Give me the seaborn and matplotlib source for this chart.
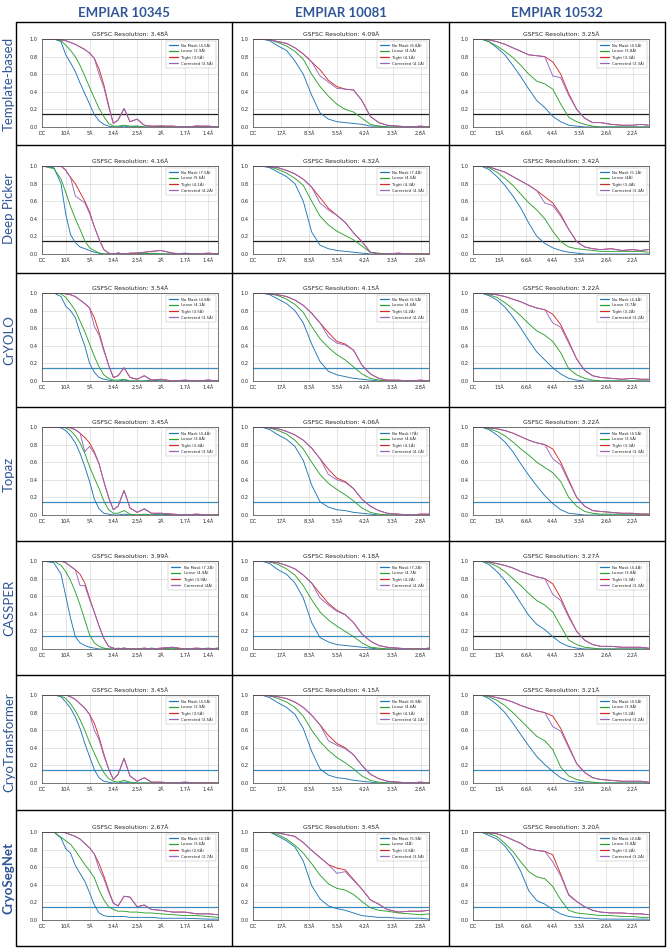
import matplotlib
matplotlib.use('Agg')
import matplotlib.pyplot as plt
import seaborn as sns
from matplotlib.lines import Line2D

sns.set_style('whitegrid', {'axes.edgecolor': '0.25', 'grid.color': '0.85'})
plt.rcParams['font.family'] = 'DejaVu Sans'

# column / row headings
datasets = ['EMPIAR 10345', 'EMPIAR 10081', 'EMPIAR 10532']
pickers = ['Template-based', 'Deep Picker', 'CrYOLO', 'Topaz', 'CASSPER', 'CryoTransformer', 'CryoSegNet']

# x tick labels (resolution) and sample positions (in tick units)
ticks_10345 = ['DC', '10Å', '5Å', '3.4Å', '2.5Å', '2Å', '1.7Å', '1.4Å']
ticks_10081 = ['DC', '17Å', '8.3Å', '5.5Å', '4.2Å', '3.3Å', '2.8Å']
ticks_10532 = ['DC', '13Å', '6.6Å', '4.4Å', '3.3Å', '2.6Å', '2.2Å']
grid_10345 = [0, 0.5, 0.8, 1.0, 1.2, 1.4, 1.6, 1.8, 2.0, 2.2, 2.4, 2.6, 2.8, 3.0, 3.2, 3.45, 3.7, 4.0, 4.3, 4.6, 5.0, 5.5, 6.0, 6.5, 7.0, 7.4]
grid_10081 = [0, 0.3, 0.6, 0.9, 1.2, 1.5, 1.8, 2.1, 2.4, 2.7, 3.0, 3.3, 3.6, 3.9, 4.2, 4.5, 4.8, 5.2, 5.6, 6.0, 6.3]
grid_10532 = [0, 0.3, 0.6, 0.9, 1.2, 1.5, 1.8, 2.1, 2.4, 2.7, 3.0, 3.3, 3.6, 3.9, 4.2, 4.5, 4.8, 5.2, 5.6, 6.0, 6.3, 6.6]

# FSC curves, one row per picker
nomask_10345 = [
    [1, 1, .97, .82, .73, .63, .50, .38, .26, .14, .07, .03, .01, 0, 0, .01, 0, .01, 0, 0, .01, 0, 0, .01, 0, 0],
    [1, .98, .80, .45, .22, .13, .08, .06, .04, .02, .01, 0, 0, 0, .01, 0, 0, 0, .01, 0, 0, 0, .01, 0, 0, 0],
    [1, 1, .96, .85, .80, .72, .55, .40, .20, .10, .04, .02, .01, 0, 0, .01, 0, 0, 0, .01, 0, 0, 0, 0, .01, 0],
    [1, 1, .99, .96, .90, .82, .70, .55, .38, .18, .07, .02, .01, 0, 0, .01, 0, 0, 0, 0, .01, 0, 0, 0, 0, 0],
    [1, .98, .85, .60, .35, .14, .07, .04, .02, .01, 0, 0, 0, 0, .01, 0, 0, 0, 0, .01, 0, 0, 0, 0, .01, 0],
    [1, 1, .98, .92, .85, .75, .62, .45, .30, .15, .06, .02, .01, 0, 0, .01, 0, 0, 0, 0, 0, 0, 0, 0, 0, 0],
    [1, 1, .93, .81, .76, .62, .53, .44, .31, .17, .08, .05, .04, .04, .04, .04, .03, .03, .03, .03, .02, .02, .02, .015, .01, .01],
]
loose_10345 = [
    [1, 1, .98, .93, .87, .80, .70, .58, .45, .33, .21, .12, .04, .01, .01, .02, .01, .01, 0, 0, .01, 0, 0, 0, 0, 0],
    [1, .97, .85, .70, .54, .40, .28, .15, .07, .04, .01, 0, 0, 0, .01, 0, 0, .01, 0, .01, 0, 0, 0, 0, 0, 0],
    [1, 1, .99, .95, .88, .80, .68, .56, .42, .28, .16, .07, .03, .01, .01, .02, 0, 0, 0, 0, 0, 0, 0, 0, 0, 0],
    [1, 1, 1, .99, .96, .90, .82, .70, .55, .42, .30, .16, .06, .02, .02, .05, .01, 0, .01, 0, 0, 0, 0, 0, 0, 0],
    [1, 1, .95, .88, .78, .65, .50, .33, .16, .07, .03, .01, 0, 0, 0, .01, 0, 0, 0, 0, 0, .01, 0, 0, 0, 0],
    [1, 1, .99, .96, .90, .82, .72, .60, .46, .34, .22, .12, .05, .02, .01, .03, .01, 0, 0, 0, 0, 0, 0, 0, 0, 0],
    [1, 1, .94, .90, .86, .79, .71, .63, .56, .48, .34, .23, .15, .12, .10, .10, .09, .09, .08, .08, .07, .06, .05, .05, .04, .03],
]
tight_10345 = [
    [1, 1, .99, .98, .96, .94, .91, .88, .84, .78, .66, .48, .25, .04, .08, .21, .06, .09, .02, .01, .01, .01, 0, .01, .01, 0],
    [1, 1, 1, .95, .87, .80, .70, .60, .48, .31, .17, .05, .01, 0, .01, 0, .01, .01, .02, .03, .04, .01, 0, 0, .01, 0],
    [1, 1, 1, .99, .98, .96, .92, .88, .83, .72, .55, .36, .18, .04, .06, .15, .04, .02, .06, .01, .02, 0, .01, 0, .01, 0],
    [1, 1, 1, 1, .99, .97, .93, .88, .82, .72, .58, .38, .20, .06, .10, .28, .08, .03, .07, .02, .02, .01, 0, .01, 0, 0],
    [1, 1, 1, .98, .94, .90, .85, .75, .58, .42, .26, .12, .03, .01, 0, .01, 0, 0, .01, 0, .01, .02, 0, .01, 0, .01],
    [1, 1, 1, 1, .98, .95, .90, .85, .78, .68, .52, .33, .16, .04, .10, .28, .08, .02, .06, .01, .01, 0, .01, 0, 0, 0],
    [1, 1, 1, .99, .97, .95, .92, .87, .82, .75, .64, .50, .34, .19, .16, .27, .26, .15, .17, .12, .11, .09, .09, .07, .07, .06],
]
corrected_10345 = [
    [1, 1, .99, .98, .96, .94, .91, .88, .84, .78, .60, .45, .23, .04, .08, .21, .06, .09, .02, .01, .01, .01, 0, .01, .01, 0],
    [1, 1, 1, .95, .87, .66, .62, .58, .46, .31, .17, .05, .01, 0, .01, 0, .01, .01, .02, .03, .04, .01, 0, 0, .01, 0],
    [1, 1, 1, .99, .98, .96, .92, .88, .83, .62, .52, .34, .18, .04, .06, .15, .04, .02, .06, .01, .02, 0, .01, 0, .01, 0],
    [1, 1, 1, 1, .99, .97, .93, .72, .78, .70, .58, .38, .20, .06, .10, .28, .08, .03, .07, .02, .02, .01, 0, .01, 0, 0],
    [1, 1, 1, .98, .94, .90, .72, .72, .56, .42, .26, .12, .03, .01, 0, .01, 0, 0, .01, 0, .01, .02, 0, .01, 0, .01],
    [1, 1, 1, 1, .98, .95, .90, .85, .78, .60, .49, .31, .16, .04, .10, .28, .08, .02, .06, .01, .01, 0, .01, 0, 0, 0],
    [1, 1, 1, .99, .97, .95, .92, .87, .82, .75, .58, .47, .32, .19, .16, .27, .26, .15, .17, .12, .11, .09, .09, .07, .07, .06],
]

nomask_10081 = [
    [1, 1, .98, .92, .87, .75, .60, .36, .16, .09, .06, .05, .04, .03, .01, .01, 0, 0, 0, 0, 0],
    [1, 1, .98, .93, .88, .80, .60, .25, .10, .06, .04, .03, .02, .01, 0, 0, 0, 0, 0, 0, 0],
    [1, 1, .98, .93, .88, .80, .66, .42, .22, .11, .07, .05, .03, .02, .01, 0, 0, 0, 0, 0, 0],
    [1, 1, .97, .91, .86, .78, .62, .34, .15, .09, .06, .05, .03, .02, .01, 0, 0, 0, 0, 0, 0],
    [1, 1, .97, .90, .85, .75, .58, .30, .13, .08, .05, .04, .03, .02, .01, 0, 0, 0, 0, 0, 0],
    [1, 1, .97, .91, .86, .78, .62, .36, .16, .09, .06, .05, .03, .02, .01, 0, 0, 0, 0, 0, 0],
    [1, 1, 1, .95, .90, .83, .67, .39, .24, .16, .13, .11, .08, .05, .04, .03, .03, .02, .02, .02, .01],
]
loose_10081 = [
    [1, 1, .99, .96, .92, .86, .77, .60, .46, .35, .26, .20, .17, .10, .03, .01, 0, 0, 0, 0, 0],
    [1, 1, .99, .96, .92, .86, .78, .60, .43, .33, .26, .21, .16, .09, .02, .01, 0, 0, 0, 0, 0],
    [1, 1, .99, .97, .93, .87, .78, .62, .48, .38, .30, .24, .16, .08, .03, .01, 0, 0, 0, 0, 0],
    [1, 1, .99, .96, .92, .85, .75, .60, .46, .36, .29, .23, .16, .08, .03, .01, 0, 0, 0, 0, 0],
    [1, 1, .99, .96, .91, .84, .72, .56, .42, .33, .26, .20, .14, .07, .02, .01, 0, 0, 0, 0, 0],
    [1, 1, .99, .96, .92, .86, .76, .60, .47, .37, .29, .23, .16, .08, .03, .01, 0, 0, 0, 0, 0],
    [1, 1, 1, .97, .92, .85, .76, .64, .51, .41, .36, .34, .29, .21, .14, .11, .10, .08, .07, .06, .07],
]
tight_10081 = [
    [1, 1, .99, .97, .95, .90, .83, .74, .65, .53, .46, .43, .42, .30, .12, .05, .02, .01, 0, .01, 0],
    [1, 1, .99, .98, .95, .91, .85, .76, .64, .52, .44, .36, .24, .14, .02, 0, 0, .01, 0, 0, 0],
    [1, 1, .99, .98, .96, .92, .86, .77, .66, .55, .45, .42, .35, .18, .08, .03, .01, .01, 0, .01, 0],
    [1, 1, .99, .98, .95, .91, .85, .76, .64, .52, .42, .38, .30, .18, .10, .05, .02, .01, 0, .01, .01],
    [1, 1, .99, .98, .95, .91, .84, .75, .63, .52, .44, .39, .30, .17, .09, .04, .02, .01, 0, 0, .01],
    [1, 1, .99, .98, .96, .92, .86, .77, .66, .54, .45, .40, .32, .20, .10, .05, .02, .01, 0, .01, 0],
    [1, 1, 1, .99, .97, .95, .88, .79, .71, .63, .59, .57, .46, .35, .23, .18, .12, .09, .10, .10, .11],
]
corrected_10081 = [
    [1, 1, .99, .97, .95, .90, .83, .74, .58, .51, .44, .43, .42, .30, .12, .05, .02, .01, 0, .01, 0],
    [1, 1, .99, .98, .95, .91, .85, .76, .58, .50, .44, .36, .24, .14, .02, 0, 0, .01, 0, 0, 0],
    [1, 1, .99, .98, .96, .92, .86, .77, .66, .50, .43, .41, .35, .18, .08, .03, .01, .01, 0, .01, 0],
    [1, 1, .99, .98, .95, .91, .85, .76, .64, .46, .40, .37, .30, .18, .10, .05, .02, .01, 0, .01, .01],
    [1, 1, .99, .98, .95, .91, .84, .75, .58, .50, .43, .39, .30, .17, .09, .04, .02, .01, 0, 0, .01],
    [1, 1, .99, .98, .96, .92, .86, .77, .66, .48, .43, .39, .32, .20, .10, .05, .02, .01, 0, .01, 0],
    [1, 1, 1, .99, .97, .95, .88, .79, .71, .63, .53, .55, .45, .35, .23, .18, .12, .09, .10, .10, .11],
]

nomask_10532 = [
    [1, 1, .97, .90, .82, .70, .57, .43, .30, .22, .12, .06, .02, .01, 0, 0, 0, 0, 0, 0, 0, 0],
    [1, 1, .96, .88, .78, .66, .52, .35, .20, .12, .07, .04, .02, .01, 0, 0, 0, 0, 0, 0, 0, 0],
    [1, 1, .97, .92, .84, .73, .60, .46, .33, .24, .15, .08, .03, .01, 0, 0, 0, 0, 0, 0, 0, 0],
    [1, 1, .97, .91, .83, .72, .58, .45, .33, .22, .13, .06, .02, .01, 0, 0, 0, 0, 0, 0, 0, 0],
    [1, 1, .96, .88, .78, .66, .52, .38, .28, .22, .14, .07, .03, .01, 0, 0, 0, 0, 0, 0, 0, 0],
    [1, 1, .96, .89, .80, .68, .55, .42, .30, .21, .13, .06, .02, .01, 0, 0, 0, 0, 0, 0, 0, 0],
    [1, 1, .96, .92, .84, .72, .55, .33, .22, .18, .12, .07, .04, .03, .02, .02, .01, .01, .01, .01, .01, .01],
]
loose_10532 = [
    [1, 1, .97, .92, .86, .79, .70, .60, .52, .49, .43, .26, .11, .06, .03, .01, 0, 0, 0, 0, 0, 0],
    [1, 1, .98, .93, .86, .78, .68, .58, .50, .40, .26, .14, .08, .06, .05, .04, .03, .03, .03, .03, .03, .02],
    [1, 1, .98, .95, .89, .82, .74, .65, .57, .52, .45, .32, .14, .07, .03, .01, 0, 0, 0, 0, 0, 0],
    [1, 1, .98, .95, .90, .83, .75, .68, .60, .54, .48, .38, .20, .10, .04, .02, .01, .01, .01, .01, .01, .01],
    [1, 1, .98, .94, .88, .80, .72, .63, .55, .50, .42, .26, .10, .05, .02, .01, 0, 0, 0, 0, 0, 0],
    [1, 1, .98, .94, .88, .80, .71, .62, .53, .48, .38, .18, .08, .04, .02, .01, 0, 0, 0, 0, 0, 0],
    [1, 1, .98, .95, .87, .78, .66, .55, .49, .47, .38, .23, .11, .08, .07, .06, .05, .05, .04, .04, .03, .03],
]
tight_10532 = [
    [1, 1, .99, .97, .94, .90, .86, .82, .81, .80, .74, .60, .38, .20, .10, .05, .05, .03, .02, .02, .03, .02],
    [1, 1, .99, .96, .93, .88, .83, .78, .72, .65, .58, .45, .28, .14, .08, .06, .05, .06, .04, .05, .04, .05],
    [1, 1, .99, .98, .96, .93, .90, .86, .83, .81, .76, .64, .45, .25, .12, .06, .04, .03, .02, .03, .02, .02],
    [1, 1, .99, .98, .96, .93, .89, .85, .82, .80, .75, .60, .40, .20, .10, .05, .04, .03, .02, .02, .01, .01],
    [1, 1, .99, .97, .95, .92, .88, .85, .82, .80, .74, .58, .38, .20, .10, .05, .03, .03, .02, .02, .02, .01],
    [1, 1, .99, .97, .95, .92, .88, .85, .82, .80, .76, .62, .42, .22, .12, .06, .04, .03, .02, .02, .02, .01],
    [1, 1, .99, .98, .95, .91, .87, .81, .79, .78, .74, .52, .29, .21, .15, .11, .09, .08, .08, .07, .07, .06],
]
corrected_10532 = [
    [1, 1, .99, .97, .94, .90, .86, .82, .81, .80, .58, .56, .36, .20, .10, .05, .05, .03, .02, .02, .03, .02],
    [1, 1, .99, .96, .93, .88, .83, .78, .72, .58, .55, .43, .28, .14, .08, .06, .05, .06, .04, .05, .04, .05],
    [1, 1, .99, .98, .96, .93, .90, .86, .83, .81, .66, .61, .43, .25, .12, .06, .04, .03, .02, .03, .02, .02],
    [1, 1, .99, .98, .96, .93, .89, .85, .82, .80, .64, .57, .38, .20, .10, .05, .04, .03, .02, .02, .01, .01],
    [1, 1, .99, .97, .95, .92, .88, .85, .82, .80, .62, .55, .36, .20, .10, .05, .03, .03, .02, .02, .02, .01],
    [1, 1, .99, .97, .95, .92, .88, .85, .82, .80, .64, .59, .40, .22, .12, .06, .04, .03, .02, .02, .02, .01],
    [1, 1, .99, .98, .95, .91, .87, .81, .79, .78, .66, .50, .28, .21, .15, .11, .09, .08, .08, .07, .07, .06],
]

# resolutions shown in titles and legends
gsfsc_10345 = ['3.48', '4.16', '3.54', '3.45', '3.99', '3.45', '2.67']
gsfsc_10081 = ['4.09', '4.32', '4.15', '4.06', '4.18', '4.15', '3.45']
gsfsc_10532 = ['3.25', '3.42', '3.22', '3.22', '3.27', '3.21', '3.20']
res_10345 = [['4.5', '3.9', '3.5', '3.5'], ['7.5', '5.6', '4.1', '4.2'], ['4.8', '4.1', '3.5', '3.5'],
             ['4.4', '3.8', '3.4', '3.5'], ['7.2', '4.9', '3.9', '4'], ['4.5', '3.9', '3.5', '3.5'],
             ['4.3', '3.6', '2.6', '2.7']]
res_10081 = [['6.8', '4.5', '4.1', '4.1'], ['7.4', '4.5', '4.3', '4.3'], ['6.5', '4.6', '4.2', '4.2'],
             ['7', '4.6', '4.1', '4.1'], ['7.2', '4.7', '4.2', '4.2'], ['6.9', '4.6', '4.1', '4.1'],
             ['5.9', '4', '3.6', '3.5']]
res_10532 = [['4.5', '3.8', '3.3', '3.3'], ['5.1', '4', '3.4', '3.4'], ['4.4', '3.7', '3.2', '3.2'],
             ['4.5', '3.5', '3.3', '3.3'], ['4.4', '3.8', '3.3', '3.3'], ['4.5', '3.9', '3.2', '3.2'],
             ['4.6', '3.8', '3.2', '3.2']]

mask_names = ['No Mask', 'Loose', 'Tight', 'Corrected']
mask_colors = ['#1f77b4', '#2ca02c', '#d62728', '#9467bd']
thr_dark, thr_blue = '#1a1a1a', '#3b8bbf'
thr_colors = [[thr_dark] * 3, [thr_dark] * 3, [thr_blue] * 3, [thr_blue] * 3,
              [thr_blue, thr_blue, thr_dark], [thr_blue] * 3, [thr_blue] * 3]

columns = [
    (ticks_10345, grid_10345, 7.4, [nomask_10345, loose_10345, tight_10345, corrected_10345], gsfsc_10345, res_10345),
    (ticks_10081, grid_10081, 6.3, [nomask_10081, loose_10081, tight_10081, corrected_10081], gsfsc_10081, res_10081),
    (ticks_10532, grid_10532, 6.62, [nomask_10532, loose_10532, tight_10532, corrected_10532], gsfsc_10532, res_10532),
]

W, H = 667, 949
fig = plt.figure(figsize=(W / 100, H / 100), dpi=100)

row_edges = [22, 145, 273, 407, 541, 675, 810, 946]
col_edges = [16, 232, 449, 665]
ax_left = [42, 253, 473]
ax_top = [39, 166, 293, 427, 561, 695, 832]
ax_w, ax_h = 176, 88
head_color = '#2F5597'

for c, (ticks, grid, xmax, curves, gsfsc, res) in enumerate(columns):
    for r in range(7):
        ax = fig.add_axes([ax_left[c] / W, 1 - (ax_top[r] + ax_h) / H, ax_w / W, ax_h / H])
        ax.axhline(0.143, color=thr_colors[r][c], lw=0.9, zorder=1)
        for k in range(4):
            sns.lineplot(x=grid, y=curves[k][r], ax=ax, color=mask_colors[k], lw=0.65,
                         errorbar=None, sort=False)
        ax.set_xlim(0, xmax)
        ax.set_ylim(0, 1.0)
        ax.set_xticks(range(len(ticks)))
        ax.set_xticklabels(ticks)
        ax.set_yticks([0, 0.2, 0.4, 0.6, 0.8, 1.0])
        ax.set_yticklabels(['0.0', '0.2', '0.4', '0.6', '0.8', '1.0'])
        ax.tick_params(labelsize=3.6, length=1.5, width=0.4, pad=1.5)
        ax.grid(True, lw=0.4, color='0.82')
        for s in ax.spines.values():
            s.set_linewidth(0.5)
        ax.set_title(f'GSFSC Resolution: {gsfsc[r]}Å', fontsize=4.4, pad=2)
        handles = [Line2D([], [], color=mask_colors[k], lw=0.9) for k in range(4)]
        labels = [f'{mask_names[k]} ({res[r][k]}Å)' for k in range(4)]
        leg = ax.legend(handles, labels, loc='upper right', fontsize=2.8, handlelength=2.4,
                        labelspacing=0.45, borderpad=0.7, frameon=True, fancybox=False)
        leg.get_frame().set_linewidth(0.3)
        leg.get_frame().set_edgecolor('0.6')

# column headers
for c, name in enumerate(datasets):
    xc = (col_edges[c] + col_edges[c + 1]) / 2 / W
    fig.text(xc, 1 - 13 / H, name, ha='center', va='center', fontsize=9.5,
             fontweight='bold', color=head_color, family=['Lato', 'DejaVu Sans'])

# row labels
for r, name in enumerate(pickers):
    yc = 1 - (row_edges[r] + row_edges[r + 1]) / 2 / H
    fig.text(9 / W, yc, name, rotation=90, ha='center', va='center', fontsize=9.5,
             fontweight='bold' if name == 'CryoSegNet' else 'normal',
             color=head_color, family=['Lato', 'DejaVu Sans'])

# table borders
for y in row_edges:
    fig.add_artist(Line2D([col_edges[0] / W, col_edges[-1] / W], [1 - y / H, 1 - y / H], color='black', lw=1.0))
for x in col_edges:
    fig.add_artist(Line2D([x / W, x / W], [1 - row_edges[0] / H, 1 - row_edges[-1] / H], color='black', lw=1.0))

fig.savefig('out.png', dpi=100)
